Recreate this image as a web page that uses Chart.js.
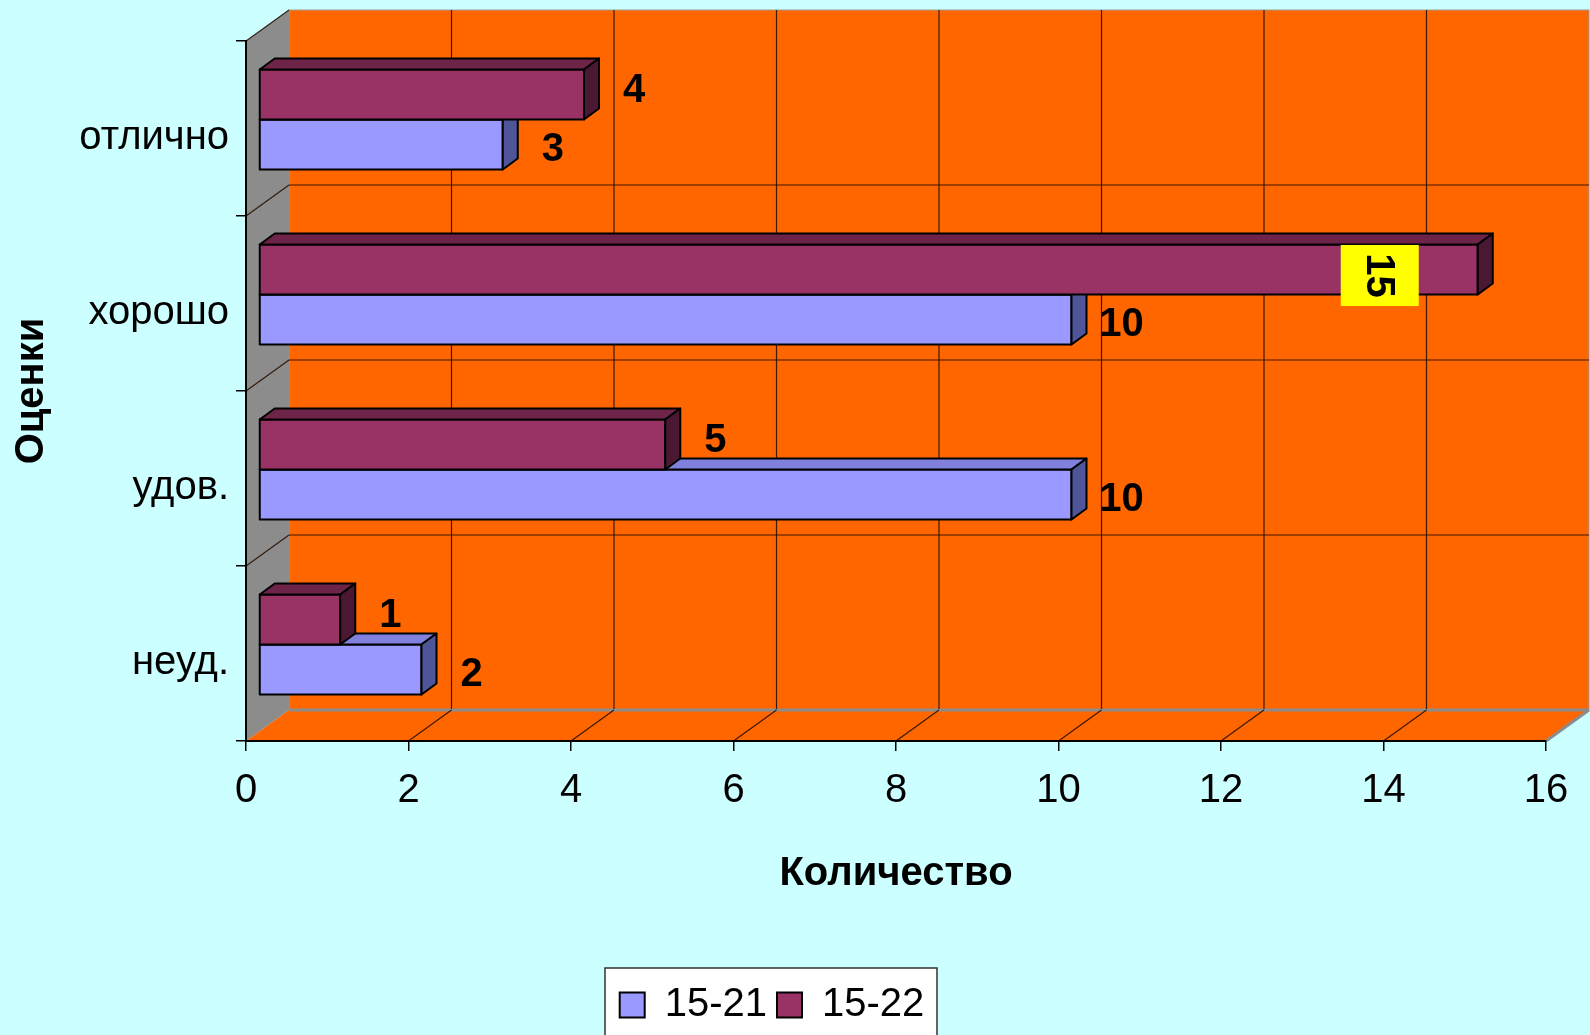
<!DOCTYPE html>
<html>
<head>
<meta charset="utf-8">
<title>Оценки</title>
<script src="https://cdn.jsdelivr.net/npm/chart.js@4.4.1/dist/chart.umd.min.js"></script>
<style>
  html, body { margin: 0; padding: 0; background: #ccffff; }
  #wrap { width: 1590px; height: 1035px; position: relative; }
</style>
</head>
<body>
<div id="wrap"><canvas id="chart"></canvas></div>
<script>
const categories = ['отлично', 'хорошо', 'удов.', 'неуд.'];
const values1521 = [3, 10, 10, 2];
const values1522 = [4, 15, 5, 1];
const seriesNames = ['15-21', '15-22'];
const xMin = 0;
const xMax = 16;
const xStep = 2;

// fake 3D: depth of the walls and of the bars (pixels)
const DEPTH_X = 43, DEPTH_Y = -31;
const BAR_SHIFT_X = 13, BAR_SHIFT_Y = -9;
const BAR_DEPTH_X = 15, BAR_DEPTH_Y = -11;
const WALL = '#ff6600';
const SIDE_WALL = '#8c8c8c';
const GRID = 'rgba(40, 15, 0, 0.9)';
const FONT = '"Liberation Sans", Arial, sans-serif';
// legend items are centred between these two, the white frame sits at FRAME_*
const LEGEND_LEFT = 544, LEGEND_RIGHT = 1000;
const FRAME_LEFT = 605, FRAME_RIGHT = 937;

Chart.defaults.font.family = FONT;
Chart.defaults.color = '#000';

function poly(ctx, pts, fill, stroke) {
  ctx.beginPath();
  ctx.moveTo(pts[0][0], pts[0][1]);
  for (let i = 1; i < pts.length; i++) ctx.lineTo(pts[i][0], pts[i][1]);
  ctx.closePath();
  if (fill) { ctx.fillStyle = fill; ctx.fill(); }
  if (stroke) { ctx.strokeStyle = stroke; ctx.stroke(); }
}

function line(ctx, x0, y0, x1, y1) {
  ctx.beginPath();
  ctx.moveTo(x0, y0);
  ctx.lineTo(x1, y1);
  ctx.stroke();
}

const walls3d = {
  id: 'walls3d',
  afterLayout(chart) {
    const lg = chart.legend;
    lg.left = LEGEND_LEFT;
    lg.right = LEGEND_RIGHT;
    lg.width = LEGEND_RIGHT - LEGEND_LEFT;
  },
  beforeDraw(chart) {
    const {ctx, chartArea: a, scales: {x, y}} = chart;
    const dx = DEPTH_X, dy = DEPTH_Y;
    ctx.save();
    // back wall, left wall, floor
    ctx.fillStyle = WALL;
    ctx.fillRect(a.left + dx, a.top + dy, a.width, a.height);
    ctx.lineWidth = 1;
    ctx.strokeStyle = '#9a9a9a';
    ctx.strokeRect(a.left + dx, a.top + dy, a.width, a.height);
    poly(ctx, [[a.left, a.top], [a.left + dx, a.top + dy], [a.left + dx, a.bottom + dy], [a.left, a.bottom]], SIDE_WALL);
    poly(ctx, [[a.left, a.bottom], [a.left + dx, a.bottom + dy], [a.right + dx, a.bottom + dy], [a.right, a.bottom]], WALL);
    ctx.lineWidth = 3;
    ctx.strokeStyle = SIDE_WALL;
    line(ctx, a.left + dx, a.bottom + dy, a.right + dx, a.bottom + dy);
    line(ctx, a.right, a.bottom, a.right + dx, a.bottom + dy);

    // value grid on back wall and floor
    ctx.strokeStyle = GRID;
    ctx.lineWidth = 1.2;
    x.ticks.forEach(t => {
      if (t.value <= xMin || t.value >= xMax) return;
      const px = x.getPixelForValue(t.value);
      line(ctx, px + dx, a.top + dy, px + dx, a.bottom + dy - 1);
      line(ctx, px, a.bottom, px + dx, a.bottom + dy);
    });
    // category boundaries on back wall and left wall
    const n = y.ticks.length;
    const band = a.height / n;
    for (let k = 0; k < n; k++) {
      const py = a.top + k * band;
      if (k > 0) line(ctx, a.left + dx, py + dy, a.right + dx, py + dy);
      line(ctx, a.left, py, a.left + dx, py + dy);
    }

    // legend frame
    const lg = chart.legend;
    ctx.fillStyle = '#ffffff';
    ctx.strokeStyle = '#333';
    ctx.lineWidth = 1.5;
    ctx.fillRect(FRAME_LEFT, lg.top - 7, FRAME_RIGHT - FRAME_LEFT, chart.height);
    ctx.strokeRect(FRAME_LEFT, lg.top - 7, FRAME_RIGHT - FRAME_LEFT, chart.height);
    ctx.restore();
  },
  beforeDatasetsDraw(chart) {
    const ctx = chart.ctx;
    ctx.save();
    ctx.lineWidth = 2;
    ctx.strokeStyle = '#000';
    ctx.lineJoin = 'round';
    // lower series first so the upper bar covers its top face
    for (let di = chart.data.datasets.length - 1; di >= 0; di--) {
      const ds = chart.data.datasets[di];
      chart.getDatasetMeta(di).data.forEach(bar => {
        const {x: xe, y: yc, base, height} = bar.getProps(['x', 'y', 'base', 'height'], true);
        const x0 = base + BAR_SHIFT_X, x1 = xe + BAR_SHIFT_X;
        const y0 = yc - height / 2 + BAR_SHIFT_Y, y1 = yc + height / 2 + BAR_SHIFT_Y;
        const bx = BAR_DEPTH_X, by = BAR_DEPTH_Y;
        poly(ctx, [[x0, y0], [x1, y0], [x1, y1], [x0, y1]], ds.backgroundColor, '#000');
        poly(ctx, [[x0, y0], [x0 + bx, y0 + by], [x1 + bx, y0 + by], [x1, y0]], ds.topColor, '#000');
        poly(ctx, [[x1, y0], [x1 + bx, y0 + by], [x1 + bx, y1 + by], [x1, y1]], ds.sideColor, '#000');
      });
    }
    ctx.restore();
    return false;
  },
  afterDraw(chart) {
    const ctx = chart.ctx;
    const allValues = chart.data.datasets.flatMap(d => d.data);
    const top = Math.max(...allValues);
    ctx.save();
    ctx.font = 'bold 40px ' + FONT;
    ctx.textAlign = 'center';
    ctx.textBaseline = 'middle';
    chart.data.datasets.forEach((ds, di) => {
      chart.getDatasetMeta(di).data.forEach((bar, j) => {
        const v = ds.data[j];
        const {x: xe, y: yc} = bar.getProps(['x', 'y'], true);
        const end = xe + BAR_SHIFT_X, cy = yc + BAR_SHIFT_Y;
        if (v === top) {
          // largest value: rotated label inside the bar on a yellow box
          const cx = end - 98, by = cy + 6;
          ctx.fillStyle = '#ffff00';
          ctx.fillRect(cx - 39, by - 30.5, 78, 61);
          ctx.save();
          ctx.translate(cx, by);
          ctx.rotate(Math.PI / 2);
          ctx.fillStyle = '#000';
          ctx.fillText(String(v), 0, 2);
          ctx.restore();
        } else {
          ctx.fillStyle = '#000';
          ctx.fillText(String(v), end + BAR_DEPTH_X + 35, cy + ds.labelShift);
        }
      });
    });
    ctx.restore();
  }
};

new Chart(document.getElementById('chart'), {
  type: 'bar',
  data: {
    labels: categories,
    datasets: [
      {
        label: seriesNames[1],
        data: values1522,
        backgroundColor: '#993366',
        borderColor: '#000',
        borderWidth: 2,
        topColor: '#6d2448',
        sideColor: '#4a1833',
        labelShift: -4
      },
      {
        label: seriesNames[0],
        data: values1521,
        backgroundColor: '#9999ff',
        borderColor: '#000',
        borderWidth: 2,
        topColor: '#8080dd',
        sideColor: '#4e5699',
        labelShift: 5
      }
    ]
  },
  options: {
    indexAxis: 'y',
    responsive: true,
    maintainAspectRatio: false,
    animation: false,
    events: [],
    datasets: {
      bar: { categoryPercentage: 0.572, barPercentage: 1 }
    },
    layout: { padding: { top: 41, right: 44, bottom: 0, left: 0 } },
    plugins: {
      legend: {
        position: 'bottom',
        reverse: true,
        labels: { font: { size: 40 }, color: '#000', boxWidth: 25, boxHeight: 25, padding: 10 }
      },
      tooltip: { enabled: false }
    },
    scales: {
      x: {
        min: xMin,
        max: xMax,
        ticks: { stepSize: xStep, font: { size: 40 }, padding: 16, color: '#000' },
        grid: { drawOnChartArea: false, color: '#000', lineWidth: 1.5, tickLength: 10 },
        border: { color: '#000', width: 2 },
        title: {
          display: true,
          text: 'Количество',
          font: { size: 40, weight: 'bold' },
          color: '#000',
          padding: { top: 0, bottom: 77 }
        },
        afterFit: s => { s.height = 234; }
      },
      y: {
        ticks: { font: { size: 40 }, padding: 7, color: '#000', labelOffset: 9 },
        grid: { drawOnChartArea: false, offset: true, color: '#000', lineWidth: 1.5, tickLength: 10 },
        border: { color: '#000', width: 2 },
        title: {
          display: true,
          text: 'Оценки',
          font: { size: 40, weight: 'bold' },
          color: '#000',
          padding: { top: 8, bottom: 0 }
        },
        afterFit: s => { s.width = 246; }
      }
    }
  },
  plugins: [walls3d]
});
</script>
</body>
</html>
